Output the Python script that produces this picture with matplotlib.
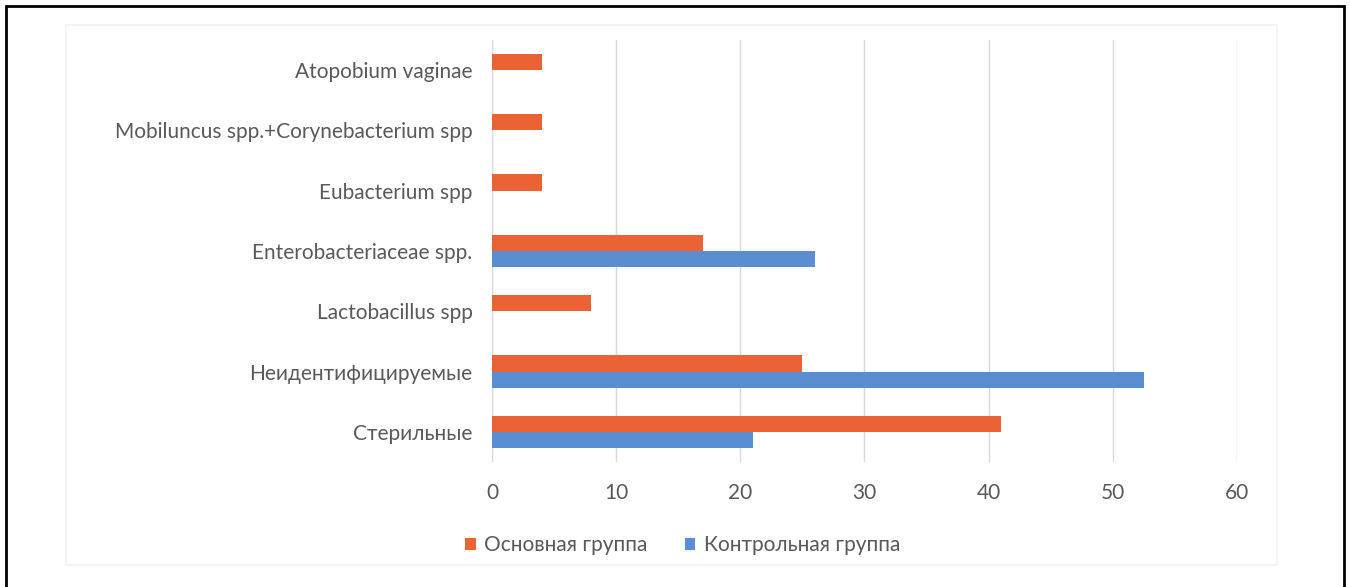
import numpy as np
import matplotlib.pyplot as plt
from matplotlib.patches import Rectangle

plt.rcParams['font.family'] = ['Lato', 'DejaVu Sans']

# ---------------- DATA ----------------
categories = [
    "Стерильные",
    "Неидентифицируемые",
    "Lactobacillus spp",
    "Enterobacteriaceae spp.",
    "Eubacterium spp",
    "Mobiluncus spp.+Corynebacterium spp",
    "Atopobium vaginae",
]
main_group = [41, 25, 8, 17, 4, 4, 4]
control_group = [21, 52.5, 0, 26, 0, 0, 0]
series_names = ["Основная группа", "Контрольная группа"]
xticks = [0, 10, 20, 30, 40, 50, 60]

orange = "#EB6234"
blue = "#5B8ED0"
text_gray = "#595959"

# ---------------- FIGURE ----------------
fig = plt.figure(figsize=(13.5, 5.87), dpi=100)
ax = fig.add_axes([0.3644, 0.213, 0.5519, 0.719])

y = np.arange(len(categories))
h = 0.27
ax.barh(y + h / 2, main_group, height=h, color=orange, label=series_names[0], zorder=3)
ax.barh(y - h / 2, control_group, height=h, color=blue, label=series_names[1], zorder=3)

ax.set_xlim(0, 60)
ax.set_ylim(-0.5, len(categories) - 0.5)
ax.set_xticks(xticks)
ax.set_xticklabels([str(t) for t in xticks])
ax.set_yticks(y)
ax.set_yticklabels(categories)
ax.tick_params(axis='both', length=0, labelsize=15, colors=text_gray)
ax.tick_params(axis='y', pad=14)
ax.tick_params(axis='x', pad=15)
ax.grid(axis='x', color="#D9D9D9", linewidth=1, zorder=0)
for s in ax.spines.values():
    s.set_visible(False)

ax.legend(loc='center', bbox_to_anchor=(0.256, -0.197), ncol=2, frameon=False,
          fontsize=15, labelcolor=text_gray, handlelength=0.5, handleheight=0.5,
          handletextpad=0.4, columnspacing=1.8)

# faint chart area and outer frame
fig.patches.append(Rectangle((66 / 1350, 1 - 565 / 587), (1277 - 66) / 1350, (565 - 25) / 587,
                             transform=fig.transFigure, fill=False, edgecolor="#F4F4F4",
                             linewidth=1.5, zorder=0))
fig.patches.append(Rectangle((6 / 1350, -0.01), (1344 - 6) / 1350, 1 - 6 / 587 + 0.01,
                             transform=fig.transFigure, fill=False, edgecolor="black",
                             linewidth=2, zorder=5))

fig.savefig("out.png", dpi=100)
